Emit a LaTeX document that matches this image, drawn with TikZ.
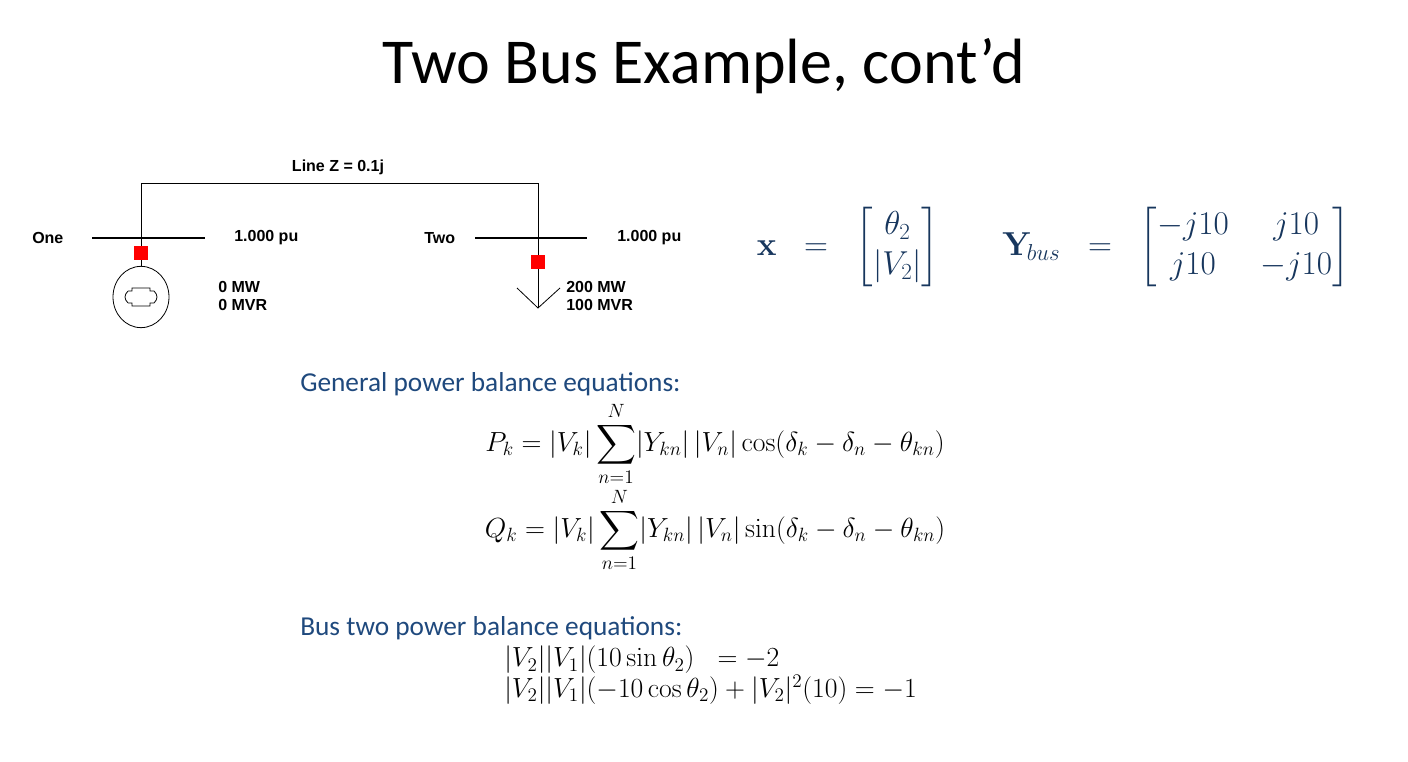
\documentclass[tikz,border=0pt]{standalone}
\usepackage{amsmath}
\usepackage[no-math]{fontspec}
\usetikzlibrary{shapes.geometric}
\setmainfont{Carlito}
\newfontfamily\lblfont{Liberation Sans}
\definecolor{navy}{RGB}{31,73,125}
\definecolor{mnavy}{RGB}{23,54,93}
\tikzset{
  lbl/.style={font=\lblfont\bfseries\fontsize{12}{13}\selectfont, inner sep=0pt},
  wire/.style={draw=black, line width=0.6pt},
  bus/.style={draw=black, line width=1.6pt},
  brk/.style={fill=red, draw=none, minimum size=10.5pt, inner sep=0pt},
  head/.style={font=\fontsize{20.5}{22}\selectfont, text=navy, anchor=west, inner sep=0pt},
  eq/.style={font=\fontsize{21}{24}\selectfont, inner sep=0pt}
}
\begin{document}
\begin{tikzpicture}[x=0.75pt,y=-0.75pt]
\useasboundingbox (0,0) rectangle (1408,762);
\node[font=\fontsize{48}{52}\selectfont, inner sep=0pt] (title) at (704,66) {Two Bus Example, cont’d};
% buses
\coordinate (b1l) at (92,238); \coordinate (b1r) at (205,238);
\coordinate (b2l) at (475,238); \coordinate (b2r) at (587,238);
\draw[bus] (b1l) -- (b1r);
\draw[bus] (b2l) -- (b2r);
\coordinate (t1) at (141,183); \coordinate (t2) at (538,183);
\coordinate (j1) at (141,238); \coordinate (j2) at (538,238);
\draw[wire] (j1) -- (t1) -- (t2) -- (j2);
\node[lbl] (linez) at (338,167) {Line Z = 0.1j};
\node[lbl, anchor=west] (one) at (32,238) {One};
\node[lbl, anchor=west] (pu1) at (234,238) {1.000 pu};
\node[lbl, anchor=west] (two) at (424,238) {Two};
\node[lbl, anchor=west] (pu2) at (617,238) {1.000 pu};
% generator
\node[brk] (r1) at (141,253) {};
\node[draw, ellipse, minimum width=42pt, minimum height=46pt, inner sep=0pt, line width=0.6pt] (gen) at (141,297) {};
\draw[wire] (j1) -- (r1) -- (gen.north);
\draw[line width=0.6pt] (128,291) -- (132,291) -- (132,288) -- (150,288) -- (150,291) -- (154,291)
  (128,303) -- (132,303) -- (132,306) -- (150,306) -- (150,303) -- (154,303)
  (128,291) .. controls (124,295) and (124,299) .. (128,303)
  (154,291) .. controls (158,295) and (158,299) .. (154,303);
\node[lbl, anchor=west] (g1) at (218,287) {0 MW};
\node[lbl, anchor=west] (g2) at (218,305) {0 MVR};
% load
\node[brk] (r2) at (538,262) {};
\coordinate (tip) at (538,308);
\draw[wire] (j2) -- (r2) -- (tip);
\draw[wire] (517,288) -- (tip) -- (560,288);
\node[lbl, anchor=west] (l1) at (566,287) {200 MW};
\node[lbl, anchor=west] (l2) at (566,305) {100 MVR};
% matrices
\node[font=\fontsize{24}{30}\selectfont, text=mnavy, inner sep=0pt] (xvec) at (848,247)
  {$\mathbf{x} \;\;=\;\; \begin{bmatrix}\theta_2\\ \lvert V_2\rvert\end{bmatrix}$};
\node[font=\fontsize{24}{30}\selectfont, text=mnavy, inner sep=0pt] (ybus) at (1176,247)
  {$\mathbf{Y}_{\!bus} \;\;=\;\; \begin{bmatrix}-j10 & \;\; j10\\ j10 & \;\;-j10\end{bmatrix}$};
% equations
\node[head] (h1) at (300,384) {General power balance equations:};
\node[eq] (pk) at (715,444) {$P_k = \lvert V_k\rvert \displaystyle\sum_{n=1}^{N} \lvert Y_{kn}\rvert\,\lvert V_n\rvert\cos(\delta_k-\delta_n-\theta_{kn})$};
\node[eq] (qk) at (715,530) {$Q_k = \lvert V_k\rvert \displaystyle\sum_{n=1}^{N} \lvert Y_{kn}\rvert\,\lvert V_n\rvert\sin(\delta_k-\delta_n-\theta_{kn})$};
\node[head] (h2) at (300,628) {Bus two power balance equations:};
\node[eq, anchor=west] (e1) at (504,660) {$\lvert V_2\rvert\lvert V_1\rvert(10\sin\theta_2)\;\; = -2$};
\node[eq, anchor=west] (e2) at (504,690) {$\lvert V_2\rvert\lvert V_1\rvert(-10\cos\theta_2) + \lvert V_2\rvert^2(10) = -1$};
\end{tikzpicture}
\end{document}
